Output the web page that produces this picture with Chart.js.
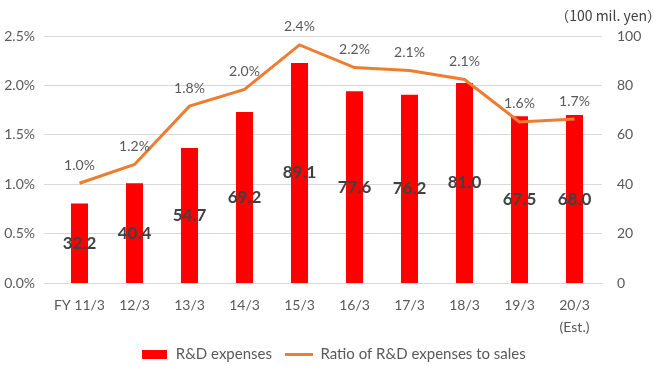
<!DOCTYPE html>
<html>
<head>
<meta charset="utf-8">
<script src="https://cdn.jsdelivr.net/npm/chart.js@4/dist/chart.umd.min.js"></script>
<style>
  html,body{margin:0;padding:0;background:#fff;}
  #wrap{width:666px;height:372px;position:relative;}
</style>
</head>
<body>
<div id="wrap"><canvas id="rdChart"></canvas></div>
<script>
// R&D expenses chart
const years = ['FY 11/3','12/3','13/3','14/3','15/3','16/3','17/3','18/3','19/3',['20/3','(Est.)']];
const rdExpenses = [32.2,40.4,54.7,69.2,89.1,77.6,76.2,81.0,67.5,68.0];
const rdRatio = [1.01,1.20,1.79,1.96,2.41,2.18,2.15,2.06,1.63,1.66];
const rdRatioText = ['1.0%','1.2%','1.8%','2.0%','2.4%','2.2%','2.1%','2.1%','1.6%','1.7%'];
const pctTicks = [0,0.5,1.0,1.5,2.0,2.5];
const yenTicks = [0,20,40,60,80,100];

const FONT = 'Lato, "Noto Sans", sans-serif';
const GREY = '#595959';

// legend swatches
function swatch(w,h,color){
  const c=document.createElement('canvas');
  c.width=w;c.height=h;
  const x=c.getContext('2d');
  x.fillStyle=color;x.fillRect(0,0,w,h);
  return c;
}
const barSwatch=swatch(25,9,'#FF0000');
const lineSwatch=swatch(28,3,'#ED7D31');

const labelPlugin={
  id:'valueLabels',
  afterDatasetsDraw(chart){
    const ctx=chart.ctx;
    ctx.save();
    ctx.textAlign='center';
    ctx.textBaseline='middle';
    // bar values, centred in the bar
    ctx.font='bold 17px '+FONT;
    ctx.fillStyle='#404040';
    chart.getDatasetMeta(1).data.forEach((el,i)=>{
      ctx.fillText(rdExpenses[i].toFixed(1),el.x,(el.y+el.base)/2);
    });
    // ratio labels above the line
    ctx.font='14px '+FONT;
    ctx.fillStyle=GREY;
    chart.getDatasetMeta(0).data.forEach((el,i)=>{
      ctx.fillText(rdRatioText[i],el.x,el.y-18);
    });
    // unit
    ctx.font='14px "Noto Sans CJK JP", '+FONT;
    ctx.textAlign='right';
    ctx.fillStyle='#404040';
    ctx.fillText('（100 mil. yen）',chart.width-5,16);
    ctx.restore();
  }
};

const ctx=document.getElementById('rdChart').getContext('2d');
new Chart(ctx,{
  data:{
    labels:years,
    datasets:[
      {type:'line',label:'Ratio of R&D expenses to sales',data:rdRatio,yAxisID:'yPct',
        borderColor:'#ED7D31',borderWidth:3,pointRadius:0,tension:0,order:0,
        pointStyle:lineSwatch},
      {type:'bar',label:'R&D expenses',data:rdExpenses,yAxisID:'yYen',
        backgroundColor:'#FF0000',barPercentage:0.31,categoryPercentage:1,order:1,
        pointStyle:barSwatch}
    ]
  },
  options:{
    responsive:true,maintainAspectRatio:false,animation:false,
    layout:{padding:{top:36,left:0,right:0,bottom:0}},
    plugins:{
      legend:{position:'bottom',reverse:true,
        labels:{usePointStyle:true,pointStyleWidth:28,color:GREY,font:{family:FONT,size:15},padding:13}},
      tooltip:{enabled:false}
    },
    scales:{
      x:{grid:{display:false},border:{color:'#d9d9d9'},
        afterFit(ax){ax.height=51;},
        ticks:{color:GREY,font:{family:FONT,size:14,lineHeight:1.55},maxRotation:0,autoSkip:false,padding:4}},
      yPct:{position:'left',min:0,max:2.5,
        afterBuildTicks(ax){ax.ticks=pctTicks.map(v=>({value:v}));},
        afterFit(ax){ax.width=52;},
        grid:{color:'#d9d9d9'},border:{display:false},
        ticks:{color:GREY,font:{family:FONT,size:14},padding:9,callback:v=>v.toFixed(1)+'%'}},
      yYen:{position:'right',min:0,max:100,
        afterBuildTicks(ax){ax.ticks=yenTicks.map(v=>({value:v}));},
        afterFit(ax){ax.width=64;},
        grid:{display:false},border:{display:false},
        ticks:{color:GREY,font:{family:FONT,size:14},padding:7}}
    }
  },
  plugins:[labelPlugin]
});
</script>
</body>
</html>
